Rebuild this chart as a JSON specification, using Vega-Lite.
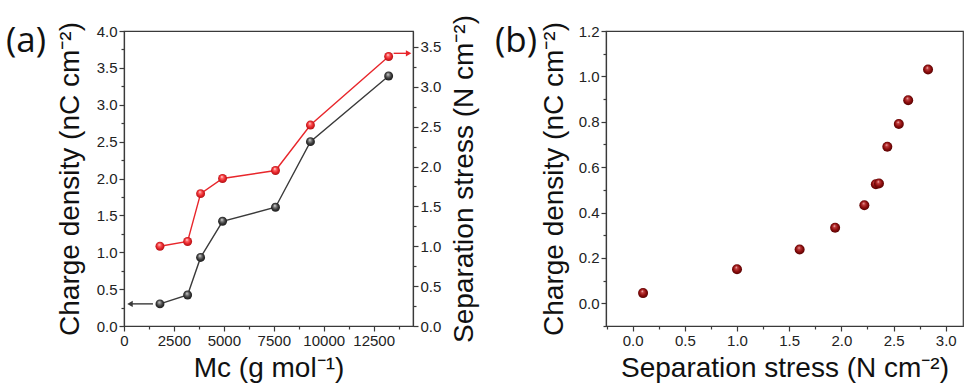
{
  "$schema": "https://vega.github.io/schema/vega-lite/v6.json",
  "background": "white",
  "padding": {"left": 5, "top": 13, "right": 0, "bottom": 0},
  "spacing": 14,
  "config": {
    "view": {"stroke": "#3a3a3a", "strokeWidth": 1.2},
    "axis": {
      "labelFont": "Liberation Sans",
      "labelFontSize": 15,
      "labelColor": "#222222",
      "labelPadding": 2,
      "labelOverlap": false,
      "labelFlush": false,
      "titleFont": "Liberation Sans",
      "titleFontSize": 28,
      "titleFontWeight": "normal",
      "titleColor": "#111111",
      "domainColor": "#3a3a3a",
      "domainWidth": 1.2,
      "tickColor": "#3a3a3a",
      "tickWidth": 1.2,
      "grid": false
    },
    "title": {"font": "Open Sans", "fontSize": 35, "fontWeight": "normal", "color": "#111111"}
  },
  "datasets": {
    "crosslink": [
      {"Mc": 1800, "charge": 0.30, "stress": 1.00},
      {"Mc": 3185, "charge": 0.42, "stress": 1.06},
      {"Mc": 3835, "charge": 0.93, "stress": 1.66},
      {"Mc": 4935, "charge": 1.42, "stress": 1.85},
      {"Mc": 7585, "charge": 1.61, "stress": 1.95},
      {"Mc": 9335, "charge": 2.50, "stress": 2.52},
      {"Mc": 13250, "charge": 3.39, "stress": 3.38}
    ],
    "chargeArrow": [{"Mc": 1450, "tip": 300, "charge": 0.30}],
    "stressArrow": [{"Mc": 13500, "tip": 14250, "stress": 3.42}],
    "separation": [
      {"stress": 0.10, "charge": 0.045},
      {"stress": 1.00, "charge": 0.150},
      {"stress": 1.60, "charge": 0.237},
      {"stress": 1.94, "charge": 0.333},
      {"stress": 2.22, "charge": 0.432},
      {"stress": 2.33, "charge": 0.525},
      {"stress": 2.36, "charge": 0.528},
      {"stress": 2.44, "charge": 0.690},
      {"stress": 2.55, "charge": 0.790},
      {"stress": 2.64, "charge": 0.895},
      {"stress": 2.83, "charge": 1.030}
    ]
  },
  "hconcat": [
    {
      "width": 289,
      "height": 295,
      "title": {"text": "(a)", "orient": "none", "anchor": "start", "frame": "group", "baseline": "alphabetic", "dx": -118, "dy": 21},
      "layer": [
        {
          "encoding": {
            "x": {
              "field": "Mc", "type": "quantitative",
              "scale": {"domain": [0, 14470], "nice": false, "zero": false},
              "axis": {
                "title": "Mᴄ (g mol⁻¹)",
                "titlePadding": 6,
                "labelOverlap": false,
                "labelFlush": false,
                "values": [0, 1250, 2500, 3750, 5000, 6250, 7500, 8750, 10000, 11250, 12500, 13750],
                "labelExpr": "datum.value % 2500 === 0 ? datum.label : ''",
                "format": "d",
                "tickSize": {"condition": {"test": "datum.value % 2500 === 0", "value": 5}, "value": 3}
              }
            },
            "y": {
              "field": "charge", "type": "quantitative",
              "scale": {"domain": [0, 4], "nice": false},
              "axis": {
                "orient": "left",
                "title": "Charge density (nC cm⁻²)",
                "titlePadding": 12,
                "labelOverlap": false,
                "format": ".1f",
                "values": [0, 0.25, 0.5, 0.75, 1, 1.25, 1.5, 1.75, 2, 2.25, 2.5, 2.75, 3, 3.25, 3.5, 3.75, 4],
                "labelExpr": "abs(datum.value * 2 - round(datum.value * 2)) < 1e-6 ? datum.label : ''",
                "tickSize": {"condition": {"test": "abs(datum.value * 2 - round(datum.value * 2)) < 1e-6", "value": 5}, "value": 3}
              }
            }
          },
          "layer": [
            {
              "data": {"name": "crosslink"},
              "mark": {"type": "line", "color": "#3a3a3a", "strokeWidth": 1.4}
            },
            {
              "data": {"name": "chargeArrow"},
              "mark": {"type": "rule", "color": "#3a3a3a", "strokeWidth": 1.4},
              "encoding": {"x2": {"field": "tip"}}
            },
            {
              "data": {"name": "chargeArrow"},
              "mark": {"type": "point", "shape": "triangle-left", "filled": true, "color": "#3a3a3a", "size": 40, "opacity": 1},
              "encoding": {
                "x": {
                  "field": "tip", "type": "quantitative",
                  "axis": {
                    "title": "Mᴄ (g mol⁻¹)",
                    "titlePadding": 6,
                    "labelOverlap": false,
                    "labelFlush": false,
                    "values": [0, 1250, 2500, 3750, 5000, 6250, 7500, 8750, 10000, 11250, 12500, 13750],
                    "labelExpr": "datum.value % 2500 === 0 ? datum.label : ''",
                    "format": "d",
                    "tickSize": {"condition": {"test": "datum.value % 2500 === 0", "value": 5}, "value": 3}
                  }
                }
              }
            },
            {
              "data": {"name": "crosslink"},
              "mark": {
                "type": "point", "shape": "circle", "filled": true, "size": 80, "opacity": 1, "strokeWidth": 0,
                "fill": {
                  "gradient": "radial", "x1": 0.42, "y1": 0.3, "r1": 0, "x2": 0.5, "y2": 0.5, "r2": 0.55,
                  "stops": [
                    {"offset": 0, "color": "#e8e8e8"},
                    {"offset": 0.25, "color": "#8a8a8a"},
                    {"offset": 0.6, "color": "#3c3c3c"},
                    {"offset": 1, "color": "#151515"}
                  ]
                }
              }
            }
          ]
        },
        {
          "encoding": {
            "x": {
              "field": "Mc", "type": "quantitative",
              "axis": {
                "title": "Mᴄ (g mol⁻¹)",
                "titlePadding": 6,
                "labelOverlap": false,
                "labelFlush": false,
                "values": [0, 1250, 2500, 3750, 5000, 6250, 7500, 8750, 10000, 11250, 12500, 13750],
                "labelExpr": "datum.value % 2500 === 0 ? datum.label : ''",
                "format": "d",
                "tickSize": {"condition": {"test": "datum.value % 2500 === 0", "value": 5}, "value": 3}
              }
            },
            "y": {
              "field": "stress", "type": "quantitative",
              "scale": {"domain": [0, 3.7], "nice": false},
              "axis": {
                "orient": "right",
                "title": "Separation stress (N cm⁻²)",
                "titleAngle": 270,
                "titleBaseline": "top",
                "titlePadding": 10,
                "labelOverlap": false,
                "format": ".1f",
                "values": [0, 0.25, 0.5, 0.75, 1, 1.25, 1.5, 1.75, 2, 2.25, 2.5, 2.75, 3, 3.25, 3.5],
                "labelExpr": "abs(datum.value * 2 - round(datum.value * 2)) < 1e-6 ? datum.label : ''",
                "tickSize": {"condition": {"test": "abs(datum.value * 2 - round(datum.value * 2)) < 1e-6", "value": 5}, "value": 3}
              }
            }
          },
          "layer": [
            {
              "data": {"name": "crosslink"},
              "mark": {"type": "line", "color": "#e8262b", "strokeWidth": 1.4}
            },
            {
              "data": {"name": "stressArrow"},
              "mark": {"type": "rule", "color": "#e8262b", "strokeWidth": 1.4},
              "encoding": {"x2": {"field": "tip"}}
            },
            {
              "data": {"name": "stressArrow"},
              "mark": {"type": "point", "shape": "triangle-right", "filled": true, "color": "#e8262b", "size": 40, "opacity": 1},
              "encoding": {
                "x": {
                  "field": "tip", "type": "quantitative",
                  "axis": {
                    "title": "Mᴄ (g mol⁻¹)",
                    "titlePadding": 6,
                    "labelOverlap": false,
                    "labelFlush": false,
                    "values": [0, 1250, 2500, 3750, 5000, 6250, 7500, 8750, 10000, 11250, 12500, 13750],
                    "labelExpr": "datum.value % 2500 === 0 ? datum.label : ''",
                    "format": "d",
                    "tickSize": {"condition": {"test": "datum.value % 2500 === 0", "value": 5}, "value": 3}
                  }
                }
              }
            },
            {
              "data": {"name": "crosslink"},
              "mark": {
                "type": "point", "shape": "circle", "filled": true, "size": 80, "opacity": 1, "strokeWidth": 0,
                "fill": {
                  "gradient": "radial", "x1": 0.42, "y1": 0.3, "r1": 0, "x2": 0.5, "y2": 0.5, "r2": 0.55,
                  "stops": [
                    {"offset": 0, "color": "#fff0f0"},
                    {"offset": 0.25, "color": "#ff6a6a"},
                    {"offset": 0.6, "color": "#e8262b"},
                    {"offset": 1, "color": "#a50f12"}
                  ]
                }
              }
            }
          ]
        }
      ],
      "resolve": {"scale": {"y": "independent"}}
    },
    {
      "width": 357,
      "height": 295,
      "title": {"text": "(b)", "orient": "none", "anchor": "start", "frame": "group", "baseline": "alphabetic", "dx": -111, "dy": 21},
      "data": {"name": "separation"},
      "mark": {
        "type": "point", "shape": "circle", "filled": true, "size": 100, "opacity": 1, "strokeWidth": 0,
        "fill": {
          "gradient": "radial", "x1": 0.42, "y1": 0.3, "r1": 0, "x2": 0.5, "y2": 0.5, "r2": 0.55,
          "stops": [
            {"offset": 0, "color": "#ffe6e6"},
            {"offset": 0.22, "color": "#c24040"},
            {"offset": 0.6, "color": "#8e0d0d"},
            {"offset": 1, "color": "#4a0000"}
          ]
        }
      },
      "encoding": {
        "x": {
          "field": "stress", "type": "quantitative",
          "scale": {"domain": [-0.255, 3.165], "nice": false, "zero": false},
          "axis": {
            "title": "Separation stress (N cm⁻²)",
            "titlePadding": 6,
            "labelOverlap": false,
            "labelFlush": false,
            "format": ".1f",
            "values": [-0.25, 0, 0.25, 0.5, 0.75, 1, 1.25, 1.5, 1.75, 2, 2.25, 2.5, 2.75, 3],
            "labelExpr": "abs(datum.value * 2 - round(datum.value * 2)) < 1e-6 ? datum.label : ''",
            "tickSize": {"condition": {"test": "abs(datum.value * 2 - round(datum.value * 2)) < 1e-6", "value": 5}, "value": 3}
          }
        },
        "y": {
          "field": "charge", "type": "quantitative",
          "scale": {"domain": [-0.1, 1.2], "nice": false, "zero": false},
          "axis": {
            "title": "Charge density (nC cm⁻²)",
            "titlePadding": 10,
            "labelOverlap": false,
            "format": ".1f",
            "values": [-0.1, 0, 0.1, 0.2, 0.3, 0.4, 0.5, 0.6, 0.7, 0.8, 0.9, 1, 1.1, 1.2],
            "labelExpr": "abs(datum.value * 5 - round(datum.value * 5)) < 1e-6 ? datum.label : ''",
            "tickSize": {"condition": {"test": "abs(datum.value * 5 - round(datum.value * 5)) < 1e-6", "value": 5}, "value": 3}
          }
        }
      }
    }
  ]
}
